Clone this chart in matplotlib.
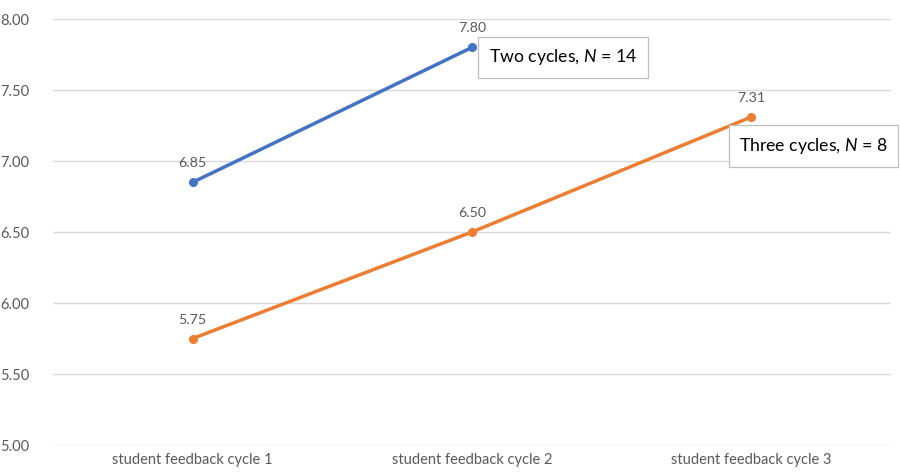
import matplotlib
matplotlib.use('Agg')
import matplotlib.pyplot as plt

plt.rcParams['font.family'] = ['Lato', 'DejaVu Sans']
plt.rcParams['mathtext.fontset'] = 'custom'
plt.rcParams['mathtext.rm'] = 'Lato'
plt.rcParams['mathtext.it'] = 'Lato:italic'

# dati
cicli = ['student feedback cycle 1', 'student feedback cycle 2', 'student feedback cycle 3']
due_cicli = [6.85, 7.80]
tre_cicli = [5.75, 6.50, 7.31]
yticks = [5.00, 5.50, 6.00, 6.50, 7.00, 7.50, 8.00]

BLU = '#4472C4'
ARANCIO = '#ED7D31'
GRIGIO = '#595959'

fig = plt.figure(figsize=(9, 4.73), dpi=100)
ax = fig.add_axes([53/900, 1-445/473, (891-53)/900, (445-19)/473])

x = list(range(len(cicli)))
ax.plot(x[:len(due_cicli)], due_cicli, color=BLU, lw=2.5, marker='o', ms=5.5, zorder=3)
ax.plot(x, tre_cicli, color=ARANCIO, lw=2.5, marker='o', ms=5.5, zorder=3)

# etichette dei valori
for xi, v in zip(x, due_cicli):
    ax.annotate(f'{v:.2f}', (xi, v), xytext=(0, 13), textcoords='offset pixels',
                ha='center', va='bottom', fontsize=10.3, color=GRIGIO)
for xi, v in zip(x, tre_cicli):
    ax.annotate(f'{v:.2f}', (xi, v), xytext=(0, 13), textcoords='offset pixels',
                ha='center', va='bottom', fontsize=10.3, color=GRIGIO)

box = dict(boxstyle='square,pad=0.6', fc='white', ec='#BFBFBF', lw=0.9)
ax.annotate('Two cycles, $N$ = 14', (1, due_cicli[1]), xytext=(17, -10),
            textcoords='offset pixels', ha='left', va='center', fontsize=12.7,
            color='black', bbox=box, zorder=4)
ax.annotate('Three cycles, $N$ = 8', (2, tre_cicli[2]), xytext=(-12, -29),
            textcoords='offset pixels', ha='left', va='center', fontsize=12.7,
            color='black', bbox=box, zorder=4, annotation_clip=False)

ax.set_xlim(-0.5, 2.5)
ax.set_ylim(5.0, 8.0)
ax.set_yticks(yticks)
ax.set_yticklabels([f'{t:.2f}' for t in yticks])
ax.set_xticks(x)
ax.set_xticklabels(cicli)
ax.tick_params(length=0, labelsize=10.5, labelcolor=GRIGIO)
ax.tick_params(axis='y', pad=17)
ax.tick_params(axis='x', pad=6)
ax.grid(axis='y', color='#D9D9D9', lw=1)
ax.set_axisbelow(True)
for s in ax.spines.values():
    s.set_visible(False)

plt.savefig('out.png')
